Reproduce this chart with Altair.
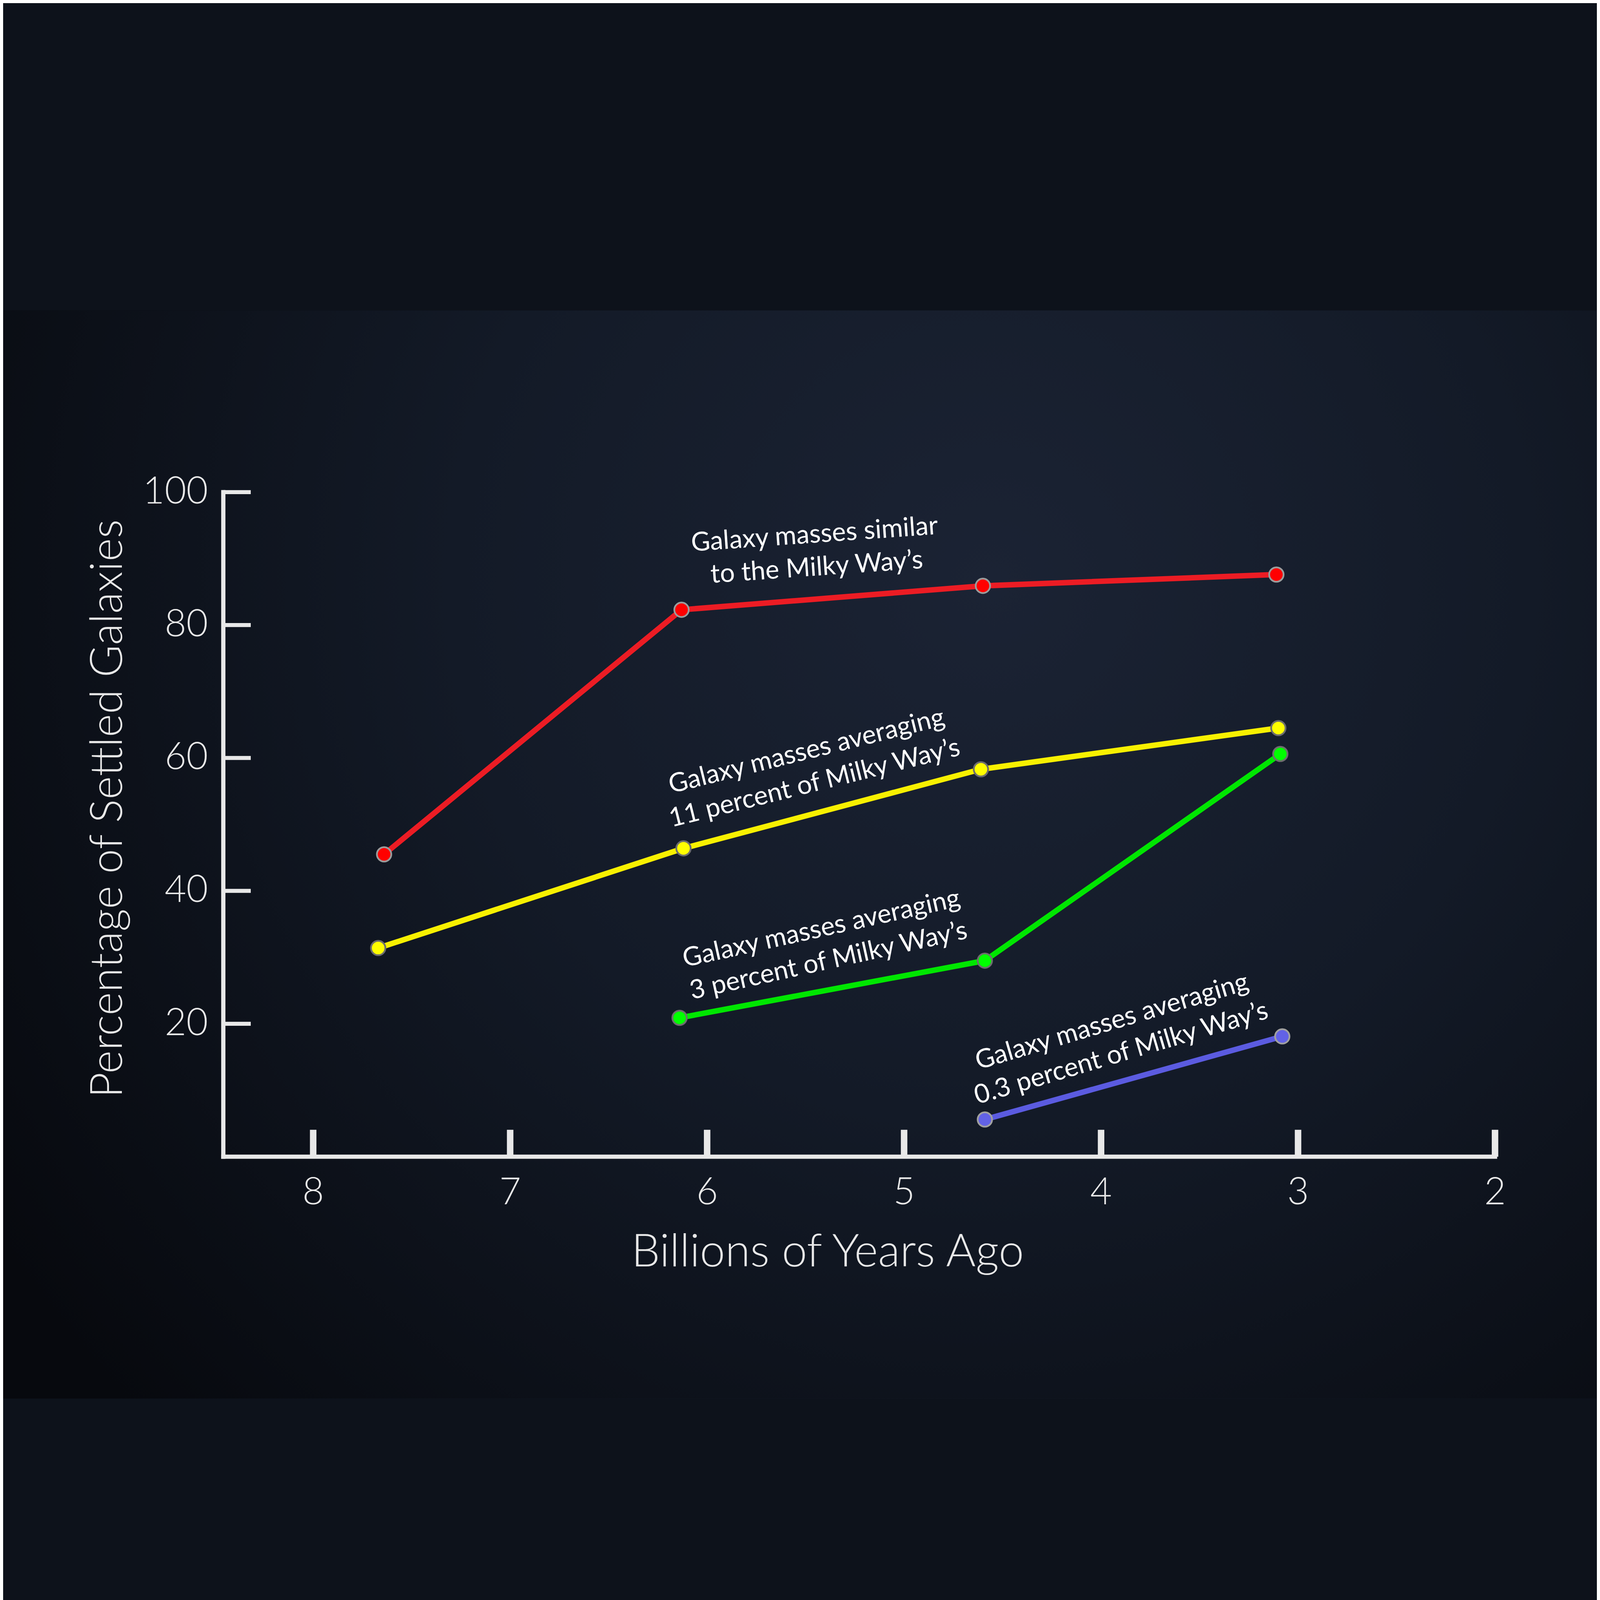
import altair as alt
import pandas as pd

# ---- data ----
series_names = ["red", "yellow", "green", "blue"]
red_x = [7.64, 6.13, 4.60, 3.11]
red_y = [45.5, 82.3, 85.9, 87.6]
yellow_x = [7.67, 6.12, 4.61, 3.10]
yellow_y = [31.4, 46.4, 58.3, 64.5]
green_x = [6.14, 4.59, 3.09]
green_y = [20.9, 29.5, 60.6]
blue_x = [4.59, 3.08]
blue_y = [5.6, 18.1]

x_ticks = [8, 7, 6, 5, 4, 3, 2]
y_ticks = [20, 40, 60, 80, 100]
x_tick_labels = ["8", "7", "6", "5", "4", "3", "2"]
y_tick_labels = ["20", "40", "60", "80", "100"]

x_title = "Billions of Years Ago"
y_title = "Percentage of Settled Galaxies"

label_text = [
    "Galaxy masses similar\nto the Milky Way\u2019s",
    "Galaxy masses averaging\n11 percent of Milky Way\u2019s",
    "Galaxy masses averaging\n3 percent of Milky Way\u2019s",
    "Galaxy masses averaging\n0.3 percent of Milky Way\u2019s",
]
label_x = [5.455, 5.495, 5.42, 3.945]
label_y = [93.6, 61.0, 34.3, 20.3]
label_angle = [356, 346, 347.5, 343.5]

line_colors = ["#ec1c24", "#f8f000", "#00e600", "#5b5be0"]
dot_colors = ["#ff0000", "#ffff00", "#00ff00", "#6262e6"]
dot_strokes = ["#9b9b9b", "#6d6d6d", "#6d6d6d", "#a0a0a0"]

# axis frame extent (data units)
axis_x_min, axis_x_max = 8.4563, 2.0
axis_y_min, axis_y_max = 0.0, 100.0

rows = []
for name, xs, ys in zip(series_names, [red_x, yellow_x, green_x, blue_x],
                        [red_y, yellow_y, green_y, blue_y]):
    for xv, yv in zip(xs, ys):
        rows.append({"series": name, "x": xv, "y": yv})
df = pd.DataFrame(rows)
labels_df = pd.DataFrame({"text": label_text, "x": label_x, "y": label_y,
                          "angle": label_angle})
xt_df = pd.DataFrame({"v": x_ticks, "t": x_tick_labels})
yt_df = pd.DataFrame({"v": y_ticks, "t": y_tick_labels})

W, H = 6384, 4359
AX = "#e8e8e8"
FONT = "Lato"

# scale domains chosen so the whole canvas is the plotting area
xscale = alt.Scale(domain=[9.5741, 1.4829], nice=False, zero=False)
yscale = alt.Scale(domain=[-36.40, 127.35], nice=False, zero=False)
X = lambda f: alt.X(f, scale=xscale, axis=None)
Y = lambda f: alt.Y(f, scale=yscale, axis=None)

# dark night-sky backdrop
sky = alt.Chart(pd.DataFrame({"t": [""]})).mark_rect(
    color=alt.RadialGradient(
        gradient="radial", x1=0.62, y1=0.33, x2=0.62, y2=0.33, r1=0, r2=0.75,
        stops=[alt.GradientStop(offset=0, color="#1b2334"),
               alt.GradientStop(offset=0.45, color="#131a27"),
               alt.GradientStop(offset=1, color="#07090e")],
    )
).encode(x=alt.value(0), x2=alt.value(W), y=alt.value(0), y2=alt.value(H))

frame = pd.DataFrame({"x1": [axis_x_min, axis_x_min], "x2": [axis_x_max, axis_x_min],
                      "y1": [axis_y_min, axis_y_min], "y2": [axis_y_min, axis_y_max]})
axis_lines = alt.Chart(frame).mark_rule(color=AX, strokeWidth=17, strokeCap="square").encode(
    x=X("x1:Q"), x2="x2:Q", y=Y("y1:Q"), y2="y2:Q",
)

tick_len_y = 108 / 26.62   # tick length, px -> y units
tick_len_x = 110 / 789.0   # tick length, px -> x units

x_tick_rules = alt.Chart(xt_df).mark_rule(color=AX, strokeWidth=26, strokeCap="butt").encode(
    x=X("v:Q"), y=alt.Y(datum=axis_y_min, scale=yscale, axis=None),
    y2=alt.Y2(datum=axis_y_min + tick_len_y),
)
y_tick_rules = alt.Chart(yt_df).mark_rule(color=AX, strokeWidth=16, strokeCap="butt").encode(
    y=Y("v:Q"), x=alt.X(datum=axis_x_min, scale=xscale, axis=None),
    x2=alt.X2(datum=axis_x_min - tick_len_x),
)

x_tick_text = alt.Chart(xt_df).mark_text(
    font=FONT, fontWeight=300, fontSize=150, color=AX, align="center",
    baseline="alphabetic", dy=190,
).encode(x=X("v:Q"), y=alt.Y(datum=axis_y_min, scale=yscale, axis=None), text="t:N")

y_tick_text = alt.Chart(yt_df).mark_text(
    font=FONT, fontWeight=300, fontSize=150, color=AX, align="right",
    baseline="middle", dx=-61,
).encode(y=Y("v:Q"), x=alt.X(datum=axis_x_min, scale=xscale, axis=None), text="t:N")

titles_df = pd.DataFrame({"t": [x_title]})
x_title_mark = alt.Chart(titles_df).mark_text(
    font=FONT, fontWeight=300, fontSize=182, color=AX, align="center",
    baseline="alphabetic", dy=439,
).encode(x=alt.X(datum=5.388, scale=xscale, axis=None),
         y=alt.Y(datum=axis_y_min, scale=yscale, axis=None), text="t:N")

ytitle_df = pd.DataFrame({"t": [y_title]})
y_title_mark = alt.Chart(ytitle_df).mark_text(
    font=FONT, fontWeight=300, fontSize=178, color=AX, align="center",
    baseline="alphabetic", angle=270,
).encode(x=alt.X(datum=8.972, scale=xscale, axis=None),
         y=alt.Y(datum=52.37, scale=yscale, axis=None), text="t:N")

color_scale = alt.Scale(domain=series_names, range=line_colors)
fill_scale = alt.Scale(domain=series_names, range=dot_colors)
stroke_scale = alt.Scale(domain=series_names, range=dot_strokes)

base = alt.Chart(df)
lines = base.mark_line(strokeWidth=22, strokeCap="butt").encode(
    x=X("x:Q"), y=Y("y:Q"),
    color=alt.Color("series:N", scale=color_scale, legend=None),
    detail="series:N",
)
dots = base.mark_circle(size=3318, strokeWidth=7, opacity=1).encode(
    x=X("x:Q"), y=Y("y:Q"),
    fill=alt.Fill("series:N", scale=fill_scale, legend=None),
    stroke=alt.Stroke("series:N", scale=stroke_scale, legend=None),
)

texts = alt.Chart(labels_df).mark_text(
    font=FONT, fontSize=105, color="#ffffff", align="center", baseline="middle",
    lineBreak="\n", lineHeight=132,
).encode(
    x=X("x:Q"), y=Y("y:Q"),
    text="text:N",
    angle=alt.Angle("angle:Q", scale=None),
)

chart = alt.layer(
    sky, axis_lines, x_tick_rules, y_tick_rules, x_tick_text, y_tick_text,
    x_title_mark, y_title_mark, lines, dots, texts,
).properties(
    width=W, height=H,
    autosize=alt.AutoSizeParams(type="fit", contains="padding"),
    padding=0,
    background="#0d121b",
).configure_view(stroke=None)

chart.save("out.html", embed_options={"renderer": "svg", "actions": False})
